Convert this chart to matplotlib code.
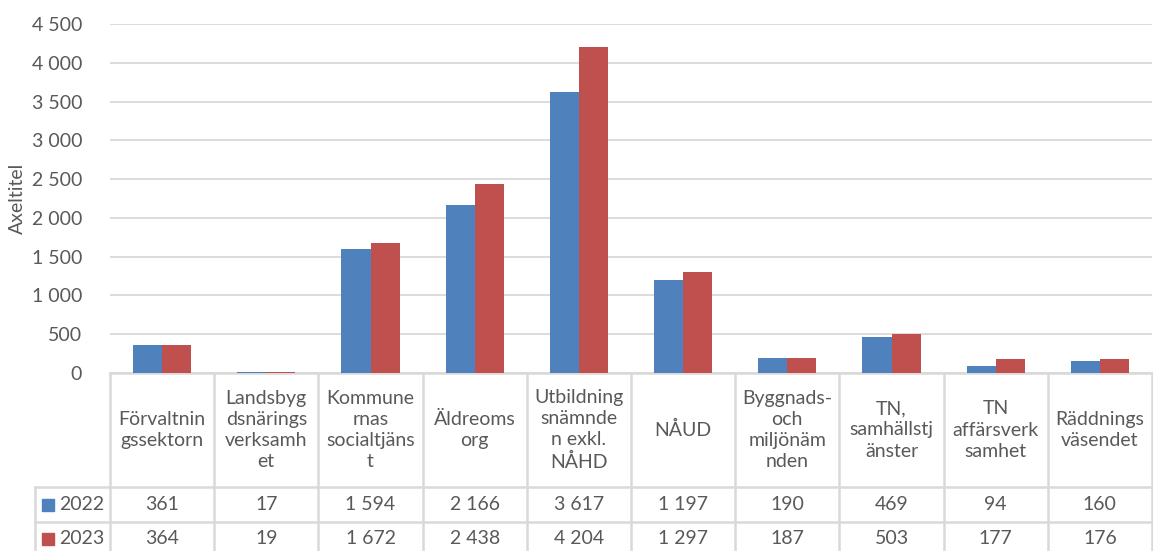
import matplotlib.pyplot as plt
import numpy as np
from matplotlib.transforms import blended_transform_factory
from matplotlib.patches import Rectangle

plt.rcParams['font.family'] = ['Lato', 'DejaVu Sans']

# Data
categories = ["Förvaltnin\ngssektorn", "Landsbyg\ndsnärings\nverksamh\net",
              "Kommune\nrnas\nsocialtjäns\nt", "Äldreoms\norg",
              "Utbildning\nsnämnde\nn exkl.\nNÅHD", "NÅUD",
              "Byggnads-\noch\nmiljönäm\nnden", "TN,\nsamhällstj\nänster",
              "TN\naffärsverk\nsamhet", "Räddnings\nväsendet"]
series_names = ["2022", "2023"]
values_2022 = [361, 17, 1594, 2166, 3617, 1197, 190, 469, 94, 160]
values_2023 = [364, 19, 1672, 2438, 4204, 1297, 187, 503, 177, 176]
colors = ["#4F81BD", "#C0504D"]
yticks = [0, 500, 1000, 1500, 2000, 2500, 3000, 3500, 4000, 4500]

W, H = 1153, 551
fig = plt.figure(figsize=(W / 100, H / 100), dpi=100)

def fy(py):
    # pixel row (from top) -> figure fraction
    return 1 - py / H

left_px, right_px, top_px, base_px = 110, 1152, 24, 373
ax = fig.add_axes([left_px / W, fy(base_px), (right_px - left_px) / W,
                   (base_px - top_px) / H])

text_col = "#595959"
grid_col = "#D9D9D9"
fs = 14

n = len(categories)
x = np.arange(n) + 0.5
bw = 0.28
for vals, c, off in zip([values_2022, values_2023], colors, [-bw / 2, bw / 2]):
    ax.bar(x + off, vals, width=bw, color=c, edgecolor='none', zorder=3)

ax.set_xlim(0, n)
ax.set_ylim(0, 4500)
ax.set_yticks(yticks)
ax.set_yticklabels([f"{v:,.0f}".replace(",", " ") for v in yticks],
                   fontsize=fs, color=text_col)
ax.tick_params(axis='y', length=0, pad=20)
ax.set_xticks([])
ax.grid(axis='y', color=grid_col, linewidth=1.3, zorder=0)
for s in ax.spines.values():
    s.set_visible(False)
ax.set_ylabel("Axeltitel", fontsize=fs, color=text_col, labelpad=4)

# Data table below the axes
tr = blended_transform_factory(ax.transData, fig.transFigure)
lw = 1.8
row1_px, row2_px, bottom_px = 487, 522, 558
legend_left_px = 35
# horizontal lines
ax.plot([0, n], [fy(base_px)] * 2, transform=tr, color=grid_col, lw=lw, clip_on=False)
for py in [row1_px, row2_px]:
    fig.add_artist(plt.Line2D([legend_left_px / W, right_px / W], [fy(py)] * 2,
                              color=grid_col, lw=lw))
# vertical lines
for i in range(n + 1):
    ax.plot([i, i], [fy(base_px), fy(bottom_px)], transform=tr, color=grid_col,
            lw=lw, clip_on=False)
fig.add_artist(plt.Line2D([legend_left_px / W] * 2, [fy(row1_px), fy(bottom_px)],
                          color=grid_col, lw=lw))

# header text
for xi, cat in zip(x, categories):
    ax.text(xi, fy((base_px + row1_px) / 2), cat, transform=tr, ha='center',
            va='center', fontsize=fs, color=text_col, linespacing=1.3)

# values rows
row_centers = [(row1_px + row2_px) / 2, (row2_px + bottom_px) / 2 - 1]
for vals, name, c, rc in zip([values_2022, values_2023], series_names, colors, row_centers):
    for xi, v in zip(x, vals):
        ax.text(xi, fy(rc), f"{v:,.0f}".replace(",", " "), transform=tr,
                ha='center', va='center', fontsize=fs, color=text_col)
    fig.add_artist(Rectangle((42 / W, fy(rc + 6)), 12 / W, 12 / H, color=c,
                             transform=fig.transFigure))
    fig.text(59 / W, fy(rc), name, ha='left', va='center', fontsize=fs,
             color=text_col)

fig.savefig("out.png", dpi=100)
